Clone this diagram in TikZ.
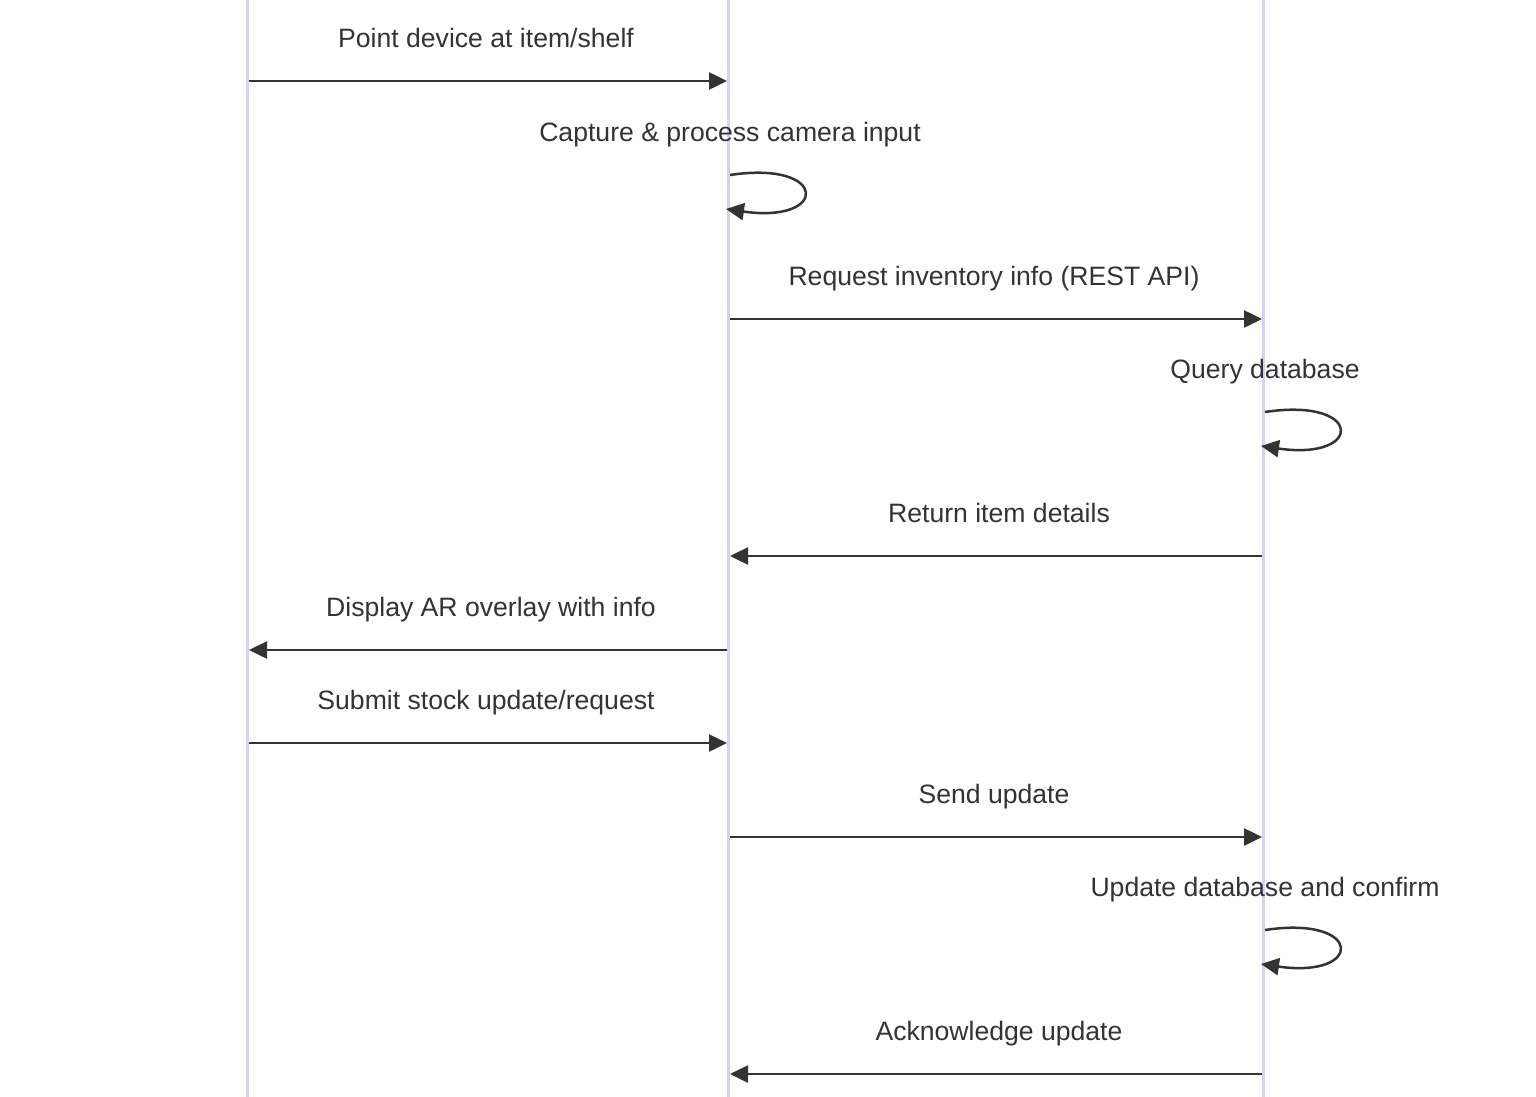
\documentclass[tikz,border=0pt]{standalone}
\usepackage{fontspec}
\setmainfont{Liberation Sans}
\usetikzlibrary{arrows.meta}
\definecolor{lifeline}{HTML}{DACEF3}
\definecolor{ink}{HTML}{333333}
\tikzset{
  lifelinestyle/.style={draw=lifeline, line width=3pt},
  msg/.style={draw=ink, line width=2.5pt, -{Triangle[length=18pt,width=17pt]}},
  msglabel/.style={text=ink, font=\fontsize{26.6pt}{30pt}\selectfont, inner sep=0pt, anchor=base},
}
\begin{document}
\begin{tikzpicture}[x=1pt,y=-1pt]
\useasboundingbox[fill=white] (0,0) rectangle (1536,1097);
% lifelines
\coordinate (aT) at (247,0); \coordinate (aB) at (247,1097);
\coordinate (bT) at (728,0); \coordinate (bB) at (728,1097);
\coordinate (cT) at (1263,0); \coordinate (cB) at (1263,1097);
\draw[lifelinestyle] (aT) -- (aB);
\draw[lifelinestyle] (bT) -- (bB);
\draw[lifelinestyle] (cT) -- (cB);

% 1
\node[msglabel] (l1) at (486,47.7) {Point device at item/shelf};
\coordinate (m1s) at (249,81); \coordinate (m1e) at (727,81);
\draw[msg] (m1s) -- (m1e);
% 2 self loop
\node[msglabel] (l2) at (730,141.7) {Capture \& process camera input};
\coordinate (s2s) at (730,175); \coordinate (s2e) at (726,209);
\draw[msg] (s2s) .. controls (829,160) and (829,224) .. (s2e);
% 3
\node[msglabel] (l3) at (994,285.7) {Request inventory info (REST API)};
\coordinate (m3s) at (730,319); \coordinate (m3e) at (1262,319);
\draw[msg] (m3s) -- (m3e);
% 4 self loop
\node[msglabel] (l4) at (1265,378.7) {Query database};
\coordinate (s4s) at (1265,412); \coordinate (s4e) at (1261,446);
\draw[msg] (s4s) .. controls (1364,397) and (1364,461) .. (s4e);
% 5
\node[msglabel] (l5) at (999,522.7) {Return item details};
\coordinate (m5s) at (1262,556); \coordinate (m5e) at (730,556);
\draw[msg] (m5s) -- (m5e);
% 6
\node[msglabel] (l6) at (491,616.7) {Display AR overlay with info};
\coordinate (m6s) at (727,650); \coordinate (m6e) at (249,650);
\draw[msg] (m6s) -- (m6e);
% 7
\node[msglabel] (l7) at (486,709.7) {Submit stock update/request};
\coordinate (m7s) at (249,743); \coordinate (m7e) at (727,743);
\draw[msg] (m7s) -- (m7e);
% 8
\node[msglabel] (l8) at (994,803.7) {Send update};
\coordinate (m8s) at (730,837); \coordinate (m8e) at (1262,837);
\draw[msg] (m8s) -- (m8e);
% 9 self loop
\node[msglabel] (l9) at (1265,896.7) {Update database and confirm};
\coordinate (s9s) at (1265,930); \coordinate (s9e) at (1261,964);
\draw[msg] (s9s) .. controls (1364,915) and (1364,979) .. (s9e);
% 10
\node[msglabel] (l10) at (999,1040.7) {Acknowledge update};
\coordinate (m10s) at (1262,1074); \coordinate (m10e) at (730,1074);
\draw[msg] (m10s) -- (m10e);
\end{tikzpicture}
\end{document}
